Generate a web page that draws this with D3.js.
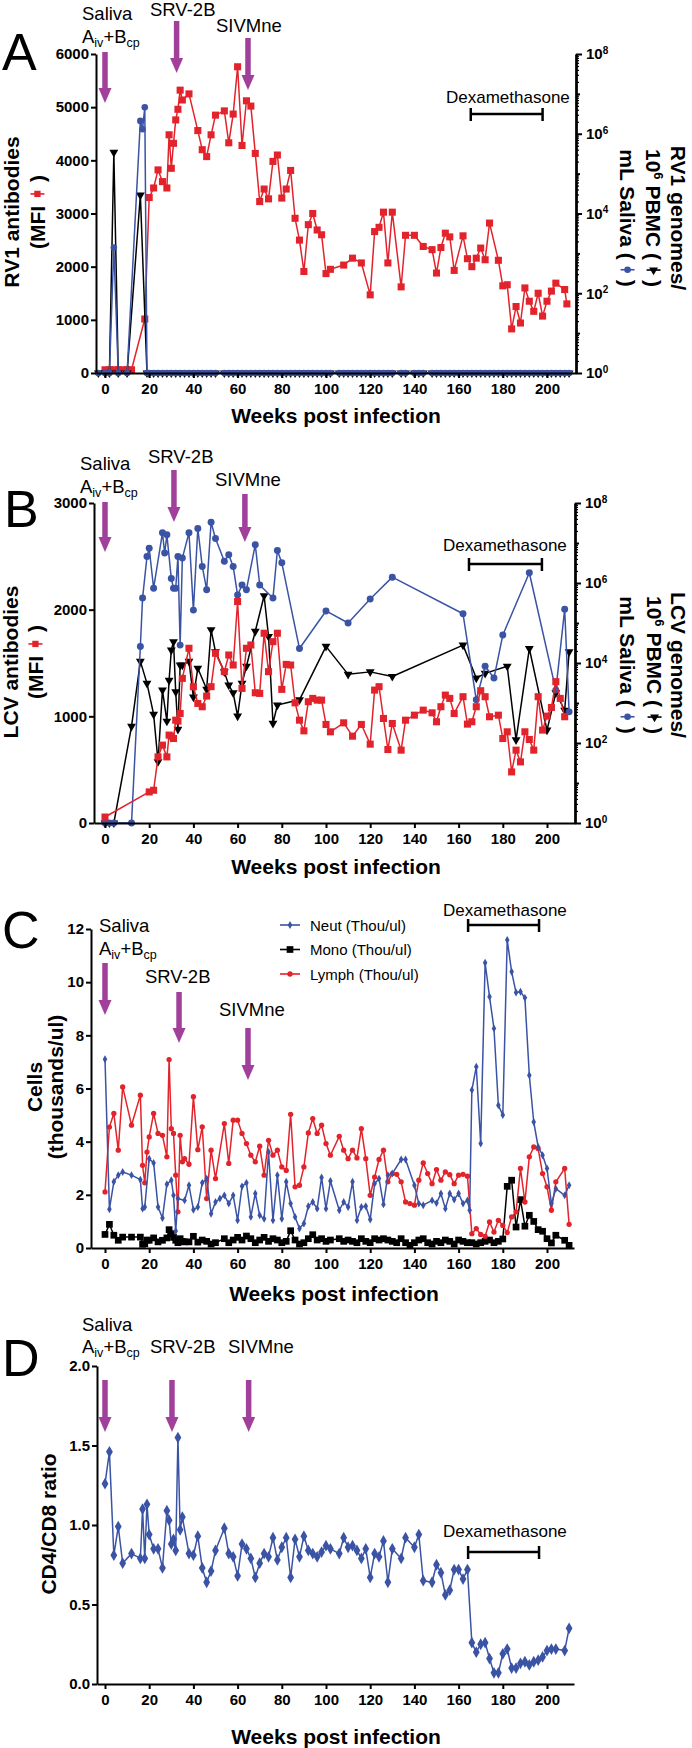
<!DOCTYPE html>
<html><head><meta charset="utf-8">
<script src="https://cdn.jsdelivr.net/npm/d3@7"></script>
<style>body{margin:0;background:#fff}svg{display:block}</style>
</head><body>
<svg id="chart" width="692" height="1748"></svg>
<script>
// ---------------- DATA ----------------
const weekTicks = [0,20,40,60,80,100,120,140,160,180,200];

// Panel A : RV1
const aMfiWeeks = [0,2,4,6,8,10,12,18,20,22,24,26,28,29,30,31,32,33,34,35,38,42,44,46,48,50,54,56,58,60,62,64,66,68,70,72,74,76,78,80,82,84,86,88,90,92,94,96,98,100,102,108,112,116,120,122,124,126,128,130,134,136,140,144,148,150,152,154,156,158,162,164,166,168,170,172,174,178,180,182,184,186,188,190,192,194,196,198,200,202,204,208,209];
const aMfi = [60,60,60,60,60,60,60,1015,3300,3480,3820,3600,3480,4480,3850,4320,4760,4960,5320,5135,5250,4560,4200,4070,4480,4850,4930,4330,4870,5760,4280,5120,5020,4130,3225,3460,3275,3980,4100,3290,3460,3810,2910,2500,1910,2790,3000,2690,2600,1870,1950,2030,2160,2070,1470,2660,2740,3025,2070,3025,1620,2590,2590,2380,2320,1880,2360,2630,2560,1930,2580,2150,2000,2160,2350,2130,2820,2120,1640,1660,830,1250,940,1600,1350,1160,1500,1070,1350,1540,1690,1570,1300];
const aPbmcEarlyWeeks = [-3,0,2,4,6,10,16,19];
const aPbmcEarly = [1,1,1,3.4e5,1,1,2.9e4,1];
const aSalivaEarlyWeeks = [-3,0,2,4,6,10,16,17,18,19];
const aSalivaEarly = [1,1,1,1.4e3,1,1,2.1e6,1.3e6,4.6e6,1];
const aLateWeeks = [20,22,24,26,28,30,32,34,36,38,40,42,44,46,48,50,54,56,58,60,62,64,66,68,70,72,74,76,78,80,82,84,86,88,90,92,94,96,98,100,102,106,108,110,112,114,116,118,120,122,124,126,128,130,134,136,140,142,144,148,150,152,154,156,158,160,162,164,166,168,170,172,174,176,178,180,182,184,186,188,190,192,194,196,198,200,202,204,206,208,210];
const aLateCopies = [1,1,1,1,1,1,1,1,1,1,1,1,1,1,1,1,1,1,1,1,1,1,1,1,1,1,1,1,1,1,1,1,1,1,1,1,1,1,1,1,1,1,1,1,1,1,1,1,1,1,1,1,1,1,1,1,1,1,1,1,1,1,1,1,1,1,1,1,1,1,1,1,1,1,1,1,1,1,1,1,1,1,1,1,1,1,1,1,1,1,1];

// Panel B : LCV
const bMfiWeeks = [0,20,22,24,26,28,29,30,31,32,33,34,35,38,40,42,44,46,48,50,54,56,58,60,62,64,66,68,70,72,74,76,78,80,82,84,86,88,90,92,94,96,98,100,102,108,112,116,120,122,124,126,128,130,134,136,140,144,148,150,152,154,156,158,162,164,166,168,170,172,174,178,180,182,184,186,188,190,192,194,196,198,200,202,204,206,208];
const bMfi = [56,291,307,620,730,620,824,814,792,964,955,1027,1356,1638,1278,1121,1090,1190,1278,1591,1419,1575,1481,2076,1262,1638,1669,1221,1215,1779,1419,1700,1779,1253,1487,1481,1127,964,864,1137,1168,1152,1152,924,855,939,814,924,739,1246,1278,980,689,933,683,964,1011,1058,1033,949,1090,1199,1168,1027,1184,927,949,1090,1240,1184,996,1011,792,855,479,683,573,855,783,683,1184,871,1002,1083,1325,1168,996];
const bPbmcWeeks = [0,2,4,12,16,19,22,24,26,28,29,30,31,32,33,34,35,38,40,42,46,48,50,54,56,58,60,62,64,68,72,74,76,78,88,100,110,120,130,162,168,172,182,186,192,200,204,208,210];
const bPbmc = [1,1,1,2.6e2,1.1e4,3.1e3,5.2e2,3.4e1,2.1e3,3.5e2,3.7e3,2.1e4,3.4e4,1.9e3,2.2e2,8.9e3,8.9e3,1.1e4,1.4e3,7.4e3,2.2e3,6.8e4,1.9e4,6.0e3,2.8e3,1.8e3,4.7e2,3.1e3,8.3e3,6.2e4,4.8e5,4.6e4,3.1e2,8.9e2,1.2e3,2.6e4,5.2e3,6.0e3,4.6e3,2.8e4,4.2e3,5.5e3,8.3e3,1.2e2,2.3e4,2.1e2,1.8e3,6.6e2,1.9e4];
const bSalivaWeeks = [0,2,4,12,16,17,19,20,22,26,27,28,30,31,32,33,34,35,38,40,42,44,46,48,50,54,56,58,60,62,64,68,70,76,78,80,88,100,110,120,130,162,168,172,176,180,192,204,208,210];
const bSaliva = [1,1,1,1,2.6e4,4.2e5,4.6e6,7.4e6,7.4e5,1.8e7,5.6e6,1.6e7,1.3e6,7.4e5,7.4e5,4.6e6,2.8e4,4.2e6,1.8e7,2.1e5,2.3e7,2.6e6,6.8e5,3.3e7,1.3e7,3.5e6,5.1e6,2.6e6,5.0e5,8.9e5,6.8e5,9.1e6,8.9e5,4.2e5,6.5e6,3.2e6,2.3e4,2.0e5,1.0e5,4.0e5,1.4e6,1.7e5,1.2e3,8.3e3,4.2e3,5.0e4,1.8e6,2.1e3,2.2e5,6.0e2];

// Panel C : blood counts
const cNeutWeeks = [0,2,4,6,8,12,16,17,18,20,22,24,26,28,30,31,32,33,36,38,40,42,44,46,48,50,52,54,56,58,60,62,64,66,68,70,72,74,76,78,80,82,84,86,88,90,92,94,96,98,100,102,106,108,110,112,114,116,118,120,122,124,126,128,130,134,136,140,142,144,148,150,152,154,156,158,160,162,164,165,166,168,170,172,174,176,178,180,182,184,186,188,190,192,194,196,198,200,202,204,208,210];
const cNeut = [7.10,1.46,2.49,2.74,2.86,2.74,2.57,1.48,1.54,3.36,3.20,1.54,1.13,2.40,2.55,1.98,0.64,1.86,1.79,2.36,1.44,1.54,2.45,2.61,1.29,1.73,1.86,1.98,1.67,1.98,1.04,2.32,2.45,1.17,2.05,1.23,1.10,3.61,1.04,2.74,1.10,2.49,1.67,1.17,0.73,0.92,1.57,1.73,1.48,2.65,1.48,2.52,1.42,1.73,1.54,2.49,1.04,1.54,1.57,1.07,2.42,2.61,1.64,2.74,2.80,3.33,3.33,2.36,1.67,1.61,1.79,1.69,2.05,1.48,2.05,1.82,2.05,1.67,1.79,1.42,5.94,6.82,3.93,10.73,9.45,8.26,5.37,5.00,11.59,10.39,9.61,9.64,9.41,6.50,4.74,3.80,3.49,2.99,1.67,2.23,1.98,2.36];
const cLymphWeeks = [0,2,4,6,8,12,16,17,18,19,20,22,24,26,28,29,30,31,32,33,34,35,36,38,40,42,44,46,48,50,54,56,58,60,62,64,66,68,70,72,74,76,78,80,82,84,86,88,90,92,94,96,98,100,102,106,108,110,112,114,116,118,120,122,124,126,128,130,132,134,136,138,140,142,144,146,148,150,152,154,156,158,160,162,164,166,168,170,172,174,176,178,180,182,184,186,188,190,192,194,196,198,200,202,204,208,210];
const cLymph = [2.11,4.55,5.06,3.68,6.06,4.62,5.75,3.11,2.45,3.61,4.18,5.06,4.31,4.24,3.43,7.09,4.49,4.31,2.74,1.36,4.24,3.24,3.36,3.15,5.69,3.70,4.56,1.86,3.68,2.61,4.68,3.18,4.81,4.81,4.31,3.93,3.49,3.24,3.83,2.74,4.05,3.49,3.68,3.05,2.92,5.03,2.30,2.36,3.05,4.33,4.87,4.31,4.62,3.93,3.49,4.20,3.68,3.36,3.68,3.39,4.49,3.36,1.98,2.67,3.33,3.68,2.49,2.80,2.77,2.49,1.73,1.67,1.61,2.55,3.20,2.80,2.42,2.95,2.55,2.86,2.76,2.42,2.74,2.77,2.70,0.54,0.73,0.51,0.44,0.98,0.60,1.04,0.85,0.58,1.17,1.36,2.99,1.73,3.43,3.80,3.74,2.80,2.30,1.42,2.49,2.99,0.89];
const cMonoWeeks = cLymphWeeks;
const cMono = [0.51,0.89,0.48,0.29,0.41,0.41,0.41,0.14,0.16,0.30,0.29,0.38,0.23,0.29,0.38,0.69,0.54,0.40,0.29,0.20,0.35,0.25,0.23,0.23,0.44,0.22,0.30,0.25,0.15,0.20,0.35,0.20,0.30,0.40,0.30,0.45,0.35,0.20,0.30,0.40,0.25,0.35,0.30,0.20,0.25,0.65,0.30,0.15,0.20,0.35,0.50,0.30,0.35,0.25,0.30,0.35,0.25,0.30,0.25,0.20,0.35,0.25,0.20,0.35,0.30,0.35,0.30,0.25,0.20,0.35,0.20,0.10,0.20,0.30,0.35,0.20,0.15,0.25,0.20,0.30,0.25,0.15,0.30,0.25,0.20,0.20,0.15,0.20,0.25,0.30,0.20,0.25,0.34,2.32,2.55,0.79,1.82,0.82,1.23,1.00,0.69,0.63,0.35,0.19,0.48,0.29,0.10];
const cLegend = ['Neut (Thou/ul)','Mono (Thou/ul)','Lymph (Thou/ul)'];

// Panel D : CD4/CD8
const dWeeks = [0,2,4,6,8,12,16,17,18,19,20,22,24,26,28,29,30,31,32,33,34,35,38,40,42,44,46,48,50,54,56,58,60,62,64,66,68,70,72,74,76,78,80,82,84,86,88,90,92,94,96,98,100,102,106,108,110,112,114,116,118,120,122,124,126,128,130,134,136,140,142,144,148,150,152,154,156,158,160,162,164,166,168,170,172,174,176,178,180,182,184,186,188,190,192,194,196,198,200,202,204,208,210];
const dRatio = [1.26,1.46,0.81,0.99,0.76,0.82,0.79,1.10,0.79,1.13,0.94,0.85,0.85,0.73,1.09,1.03,0.88,0.91,0.84,1.55,0.97,1.05,0.82,0.81,0.93,0.73,0.64,0.71,0.84,0.98,0.82,0.80,0.68,0.88,0.85,0.79,0.67,0.76,0.82,0.80,0.92,0.78,0.86,0.92,0.67,0.91,0.80,0.93,0.84,0.82,0.80,0.83,0.87,0.85,0.82,0.92,0.86,0.87,0.84,0.79,0.85,0.67,0.82,0.80,0.90,0.64,0.85,0.79,0.92,0.86,0.94,0.65,0.64,0.75,0.70,0.56,0.59,0.72,0.72,0.66,0.72,0.26,0.20,0.25,0.26,0.16,0.07,0.07,0.19,0.22,0.10,0.10,0.13,0.14,0.12,0.14,0.15,0.17,0.21,0.22,0.22,0.21,0.35];

// ---------------- DRAWING ----------------
const FONT = '"Liberation Sans", Arial, Helvetica, sans-serif';
const RED = '#e3232b', BLUE = '#3a53a4', BLACK = '#000', PURPLE = '#a0409a';
const svg = d3.select('#chart');
svg.append('rect').attr('width',692).attr('height',1748).attr('fill','#fff');
const x = d3.scaleLinear().domain([0,200]).range([105,547]);

function symPath(type, size){
  const m = {square:d3.symbolSquare, circle:d3.symbolCircle, tri:d3.symbolTriangle, diamond:d3.symbolDiamond};
  return d3.symbol().type(m[type]).size(size)();
}
function series(g, wk, val, ys, color, type, size, lw){
  const data = d3.zip(wk, val);
  g.append('path').datum(data)
    .attr('d', d3.line().x(d=>x(d[0])).y(d=>ys(d[1])))
    .attr('fill','none').attr('stroke',color).attr('stroke-width',lw||1.5).attr('stroke-linejoin','round');
  g.selectAll(null).data(data).enter().append('path')
    .attr('d', symPath(type,size))
    .attr('transform', d=>`translate(${x(d[0])},${ys(d[1])})${type==='tri'?' rotate(180)':''}`)
    .attr('fill',color);
}
function styleAxis(a){
  a.select('.domain').attr('stroke','#000').attr('stroke-width',2);
  a.selectAll('.tick line').attr('stroke','#000').attr('stroke-width',2);
  a.selectAll('.tick text').attr('font-family',FONT).attr('font-weight','bold').attr('font-size',15).attr('fill','#000');
}
function xAxis(g, left, right, yPos){
  const xa = d3.scaleLinear().domain([x.invert(left), x.invert(right)]).range([left,right]);
  const a = g.append('g').attr('transform',`translate(0,${yPos})`)
    .call(d3.axisBottom(xa).tickValues(weekTicks).tickSize(5).tickSizeOuter(0).tickPadding(5).tickFormat(d3.format('d')));
  styleAxis(a);
}
function yAxisLeft(g, ys, left, ticks, fmt){
  const a = g.append('g').attr('transform',`translate(${left},0)`)
    .call(d3.axisLeft(ys).tickValues(ticks).tickSize(5).tickSizeOuter(0).tickPadding(2).tickFormat(fmt));
  styleAxis(a);
}
function yAxisRightLog(g, yl, xr){
  const minor = [];
  for (let e=0;e<8;e++){ for (let k=2;k<=9;k++) minor.push(k*Math.pow(10,e)); }
  const a1 = g.append('g').attr('transform',`translate(${xr},0)`)
    .call(d3.axisRight(yl).tickValues(minor).tickSize(3).tickSizeOuter(0).tickFormat(''));
  styleAxis(a1);
  a1.selectAll('.tick line').attr('stroke-width',1.2);
  const a2 = g.append('g').attr('transform',`translate(${xr},0)`)
    .call(d3.axisRight(yl).tickValues([10,1e3,1e5,1e7]).tickSize(4).tickSizeOuter(0).tickFormat(''));
  styleAxis(a2);
  const a3 = g.append('g').attr('transform',`translate(${xr},0)`)
    .call(d3.axisRight(yl).tickValues([1,1e2,1e4,1e6,1e8]).tickSize(6).tickSizeOuter(0).tickPadding(4).tickFormat(''));
  styleAxis(a3);
  a3.selectAll('.tick text').each(function(d){
    const t = d3.select(this);
    t.append('tspan').text('10');
    t.append('tspan').attr('dy','-0.55em').attr('font-size',10).text(Math.round(Math.log10(d)));
  });
}
function arrow(g, xp, y0, y1){
  const hw = 6.5, hh = 15, sw = 5.5;
  g.append('rect').attr('x',xp-sw/2).attr('y',y0).attr('width',sw).attr('height',y1-hh-y0+1).attr('fill',PURPLE);
  g.append('path').attr('d',`M${xp-hw},${y1-hh}L${xp+hw},${y1-hh}L${xp},${y1}Z`).attr('fill',PURPLE);
}
function txt(g, s, xp, yp, size, weight, anchor){
  return g.append('text').attr('x',xp).attr('y',yp).attr('font-family',FONT)
    .attr('font-size',size).attr('font-weight',weight||'normal').attr('text-anchor',anchor||'start').attr('fill','#000').text(s);
}
function aivText(g, xp, yp){
  const t = g.append('text').attr('x',xp).attr('y',yp).attr('font-family',FONT).attr('font-size',18.5).attr('fill','#000');
  t.append('tspan').text('A');
  t.append('tspan').attr('font-size',12.5).attr('dy',4).text('iv');
  t.append('tspan').attr('dy',-4).text('+B');
  t.append('tspan').attr('font-size',12.5).attr('dy',4).text('cp');
}
function dexa(g, xText, yText, yBar, w0, w1){
  txt(g,'Dexamethasone',xText,yText,17);
  g.append('line').attr('x1',x(w0)).attr('x2',x(w1)).attr('y1',yBar).attr('y2',yBar).attr('stroke','#000').attr('stroke-width',2.5);
  [w0,w1].forEach(w=>g.append('line').attr('x1',x(w)).attr('x2',x(w)).attr('y1',yBar-6).attr('y2',yBar+7).attr('stroke','#000').attr('stroke-width',2.5));
}
function legendSym(g, cx, cy, p, angle){
  const L = p.len || 14;
  const s = g.append('g').attr('transform',`translate(${cx},${cy}) rotate(${-(angle||0)})`);
  s.append('line').attr('x1',-L/2).attr('x2',L/2).attr('y1',0).attr('y2',0).attr('stroke',p.color).attr('stroke-width',1.6);
  s.append('path').attr('d',symPath(p.sym,p.size||36))
    .attr('transform',p.sym==='tri'?'rotate(180)':null).attr('fill',p.color);
}
function richLabel(parent, bx, cy, angle, pieces, size){
  const g = parent.append('g').attr('transform',`translate(${bx},${cy}) rotate(${angle})`);
  let pos = 0; const items = [];
  pieces.forEach(p=>{
    if (p.sym){ items.push({p, x0:pos, w:p.w}); pos += p.w; }
    else {
      const t = g.append('text').attr('font-family',FONT).attr('font-weight','bold')
        .attr('font-size',p.size||size).attr('y',p.dy||0).attr('fill','#000').text(p.text);
      const w = t.node().getComputedTextLength();
      items.push({t, x0:pos, w}); pos += w;
    }
  });
  const off = -pos/2;
  items.forEach(it=>{
    if (it.t) it.t.attr('x', it.x0+off);
    else legendSym(g, it.x0+off+it.w/2, -size*0.36, it.p, angle);
  });
}
const NB = '\u00A0';

// ===== Panel A =====
(function(){
  const g = svg.append('g');
  const yL = d3.scaleLinear().domain([0,6000]).range([373,54]);
  const yR = d3.scaleLog().domain([1,1e8]).range([373,54]);
  txt(g,'A',2,70,52);
  txt(g,'Saliva',82,20,18.5); aivText(g,82,43);
  txt(g,'SRV-2B',150,16,18.5); txt(g,'SIVMne',216,32,18.5);
  arrow(g,x(0),52,103); arrow(g,x(32.4),21,73); arrow(g,x(64.7),38,90);
  dexa(g,446,103,114,165.5,198);
  series(g, aMfiWeeks, aMfi, yL, RED, 'square', 50);
  series(g, aPbmcEarlyWeeks.concat(aLateWeeks), aPbmcEarly.concat(aLateCopies), yR, BLACK, 'tri', 34);
  series(g, aSalivaEarlyWeeks.concat(aLateWeeks), aSalivaEarly.concat(aLateCopies), yR, BLUE, 'circle', 34);
  yAxisLeft(g, yL, 96, [0,1000,2000,3000,4000,5000,6000], d3.format('d'));
  yAxisRightLog(g, yR, 576);
  xAxis(g, 96, 576, 373);
  txt(g,'Weeks post infection',336,423,21,'bold','middle');
  richLabel(g, 19, 212, -90, [{text:'RV1 antibodies'}], 21);
  richLabel(g, 45, 212, -90, [{text:'(MFI'},{sym:'square',color:RED,w:24,size:40},{text:')'}], 21);
  richLabel(g, 671, 218, 90, [{text:'RV1 genomes/'}], 21);
  richLabel(g, 646, 218, 90, [{text:'10'},{text:'6',size:13,dy:-8},{text:NB+'PBMC ('},{sym:'tri',color:BLACK,w:20,size:34},{text:')'}], 21);
  richLabel(g, 620, 218, 90, [{text:'mL Saliva ('},{sym:'circle',color:BLUE,w:20,size:34},{text:')'}], 21);
})();

// ===== Panel B =====
(function(){
  const g = svg.append('g');
  const yL = d3.scaleLinear().domain([0,3000]).range([823,503]);
  const yR = d3.scaleLog().domain([1,1e8]).range([823,503]);
  txt(g,'B',4,527,52);
  txt(g,'Saliva',80,470,18.5); aivText(g,80,493);
  txt(g,'SRV-2B',148,463,18.5); txt(g,'SIVMne',215,486,18.5);
  arrow(g,x(0),502,552); arrow(g,x(31.2),470,522); arrow(g,x(63.3),494,542);
  dexa(g,443,551,564,164.7,197.7);
  series(g, bPbmcWeeks, bPbmc, yR, BLACK, 'tri', 34);
  series(g, bSalivaWeeks, bSaliva, yR, BLUE, 'circle', 38);
  series(g, bMfiWeeks, bMfi, yL, RED, 'square', 50);
  yAxisLeft(g, yL, 94, [0,1000,2000,3000], d3.format('d'));
  yAxisRightLog(g, yR, 575);
  xAxis(g, 94, 575, 823);
  txt(g,'Weeks post infection',336,874,21,'bold','middle');
  richLabel(g, 18, 662, -90, [{text:'LCV antibodies'}], 21);
  richLabel(g, 43, 662, -90, [{text:'(MFI'},{sym:'square',color:RED,w:24,size:40},{text:')'}], 21);
  richLabel(g, 671, 665, 90, [{text:'LCV genomes/'}], 21);
  richLabel(g, 647, 665, 90, [{text:'10'},{text:'6',size:13,dy:-8},{text:NB+'PBMC ('},{sym:'tri',color:BLACK,w:20,size:34},{text:')'}], 21);
  richLabel(g, 620, 665, 90, [{text:'mL Saliva ('},{sym:'circle',color:BLUE,w:20,size:34},{text:')'}], 21);
})();

// ===== Panel C =====
(function(){
  const g = svg.append('g');
  const y = d3.scaleLinear().domain([0,12]).range([1248,929]);
  txt(g,'C',2,948,52);
  txt(g,'Saliva',99,932,18.5); aivText(g,99,955);
  txt(g,'SRV-2B',145,983,18.5); txt(g,'SIVMne',219,1016,18.5);
  arrow(g,x(0),963,1015); arrow(g,x(33.5),992,1043); arrow(g,x(64.7),1028,1080);
  dexa(g,443,916,925,164.3,196.4);
  series(g, cMonoWeeks, cMono, y, BLACK, 'square', 45);
  series(g, cLymphWeeks, cLymph, y, RED, 'circle', 22);
  series(g, cNeutWeeks, cNeut, y, BLUE, 'diamond', 18);
  const leg = [{c:BLUE,s:'diamond',z:18},{c:BLACK,s:'square',z:45},{c:RED,s:'circle',z:22}];
  leg.forEach((l,i)=>{
    const yy = 925 + i*24.5;
    legendSym(g, 290, yy, {color:l.c, sym:l.s, size:l.z, len:20}, 0);
    txt(g, cLegend[i], 310, yy+5.5, 15);
  });
  yAxisLeft(g, y, 91, [0,2,4,6,8,10,12], d3.format('d'));
  xAxis(g, 91, 574, 1248);
  txt(g,'Weeks post infection',334,1301,21,'bold','middle');
  richLabel(g, 42, 1087, -90, [{text:'Cells'}], 21);
  richLabel(g, 63, 1087, -90, [{text:'(thousands/ul)'}], 21);
})();

// ===== Panel D =====
(function(){
  const g = svg.append('g');
  const y = d3.scaleLinear().domain([0,2]).range([1684,1366]);
  txt(g,'D',2,1376,52);
  txt(g,'Saliva',82,1331,18.5); aivText(g,82,1353);
  txt(g,'SRV-2B',150,1353,18.5); txt(g,'SIVMne',228,1353,18.5);
  arrow(g,x(0),1380,1432); arrow(g,x(30.3),1380,1432); arrow(g,x(65),1380,1432);
  dexa(g,443,1537,1552,164.3,196.4);
  series(g, dWeeks, dRatio, y, BLUE, 'diamond', 40);
  yAxisLeft(g, y, 97, [0,0.5,1,1.5,2], d3.format('.1f'));
  xAxis(g, 97, 574, 1684);
  txt(g,'Weeks post infection',336,1744,21,'bold','middle');
  richLabel(g, 56, 1524, -90, [{text:'CD4/CD8 ratio'}], 21);
})();
</script>
</body></html>
